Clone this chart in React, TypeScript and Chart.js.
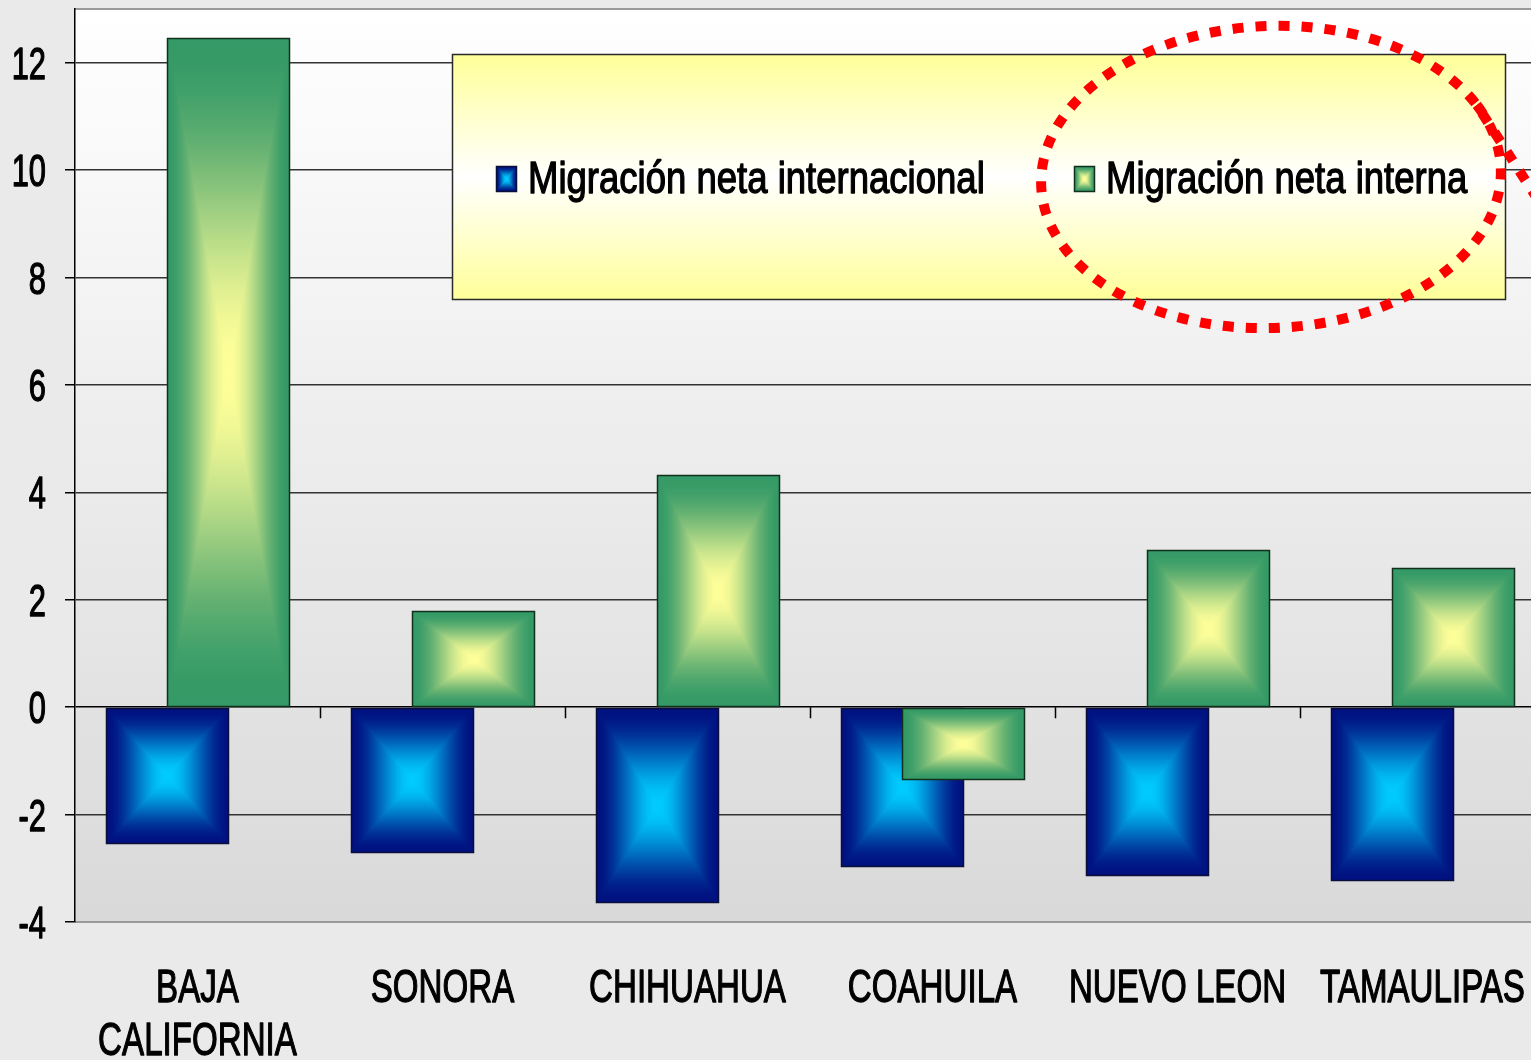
import React, { useEffect, useRef } from 'react';
import { Chart, registerables } from 'chart.js';

Chart.register(...registerables);

// ---------- data ----------
const categories: (string | string[])[] = [
  ['BAJA', 'CALIFORNIA'],
  'SONORA',
  'CHIHUAHUA',
  'COAHUILA',
  'NUEVO LEON',
  'TAMAULIPAS',
];
const migracionInternacional = [-2.53, -2.7, -3.63, -2.95, -3.13, -3.22];
const migracionInterna = [12.46, 1.79, 4.32, -1.34, 2.93, 2.59];
const yTickValues = [-4, -2, 0, 2, 4, 6, 8, 10, 12];
const seriesNames = ['Migración neta internacional', 'Migración neta interna'];

// ---------- layout / style ----------
const CANVAS_W = 1560;
const CANVAS_H = 1060;
const FONT = "'Liberation Sans', Arial, sans-serif";

const palettes = [
  { edge: [0, 16, 128], center: [0, 204, 255], border: '#0a0f3a' },
  { edge: [51, 153, 102], center: [255, 255, 153], border: '#10301c' },
];

function colorAt(edge: number[], center: number[], p: number) {
  // p: 0 at edge, 1 at center
  const d = 1 - p;
  const f = d * d * (3 - 2 * d);
  const c = center.map((cv, k) => Math.round(cv + (edge[k] - cv) * f));
  return `rgb(${c[0]},${c[1]},${c[2]})`;
}

function rampStops(g: CanvasGradient, edge: number[], center: number[]) {
  for (let i = 0; i <= 12; i++) {
    const p = i / 12;
    g.addColorStop(p, colorAt(edge, center, p));
  }
}

function drawGradientBox(
  ctx: CanvasRenderingContext2D,
  l: number,
  t: number,
  r: number,
  b: number,
  pal: { edge: number[]; center: number[]; border: string }
) {
  const cx = (l + r) / 2;
  const cy = (t + b) / 2;
  ctx.save();
  // vertical (top/bottom) component over the whole box
  if (b - t > 1) {
    const gv = ctx.createLinearGradient(0, t, 0, b);
    for (let i = 0; i <= 12; i++) {
      const p = i / 12;
      gv.addColorStop(p / 2, colorAt(pal.edge, pal.center, p));
      gv.addColorStop(1 - p / 2, colorAt(pal.edge, pal.center, p));
    }
    ctx.fillStyle = gv;
  } else {
    ctx.fillStyle = `rgb(${pal.edge.join(',')})`;
  }
  ctx.fillRect(l, t, r - l, b - t);
  // left / right triangles on top
  const tris: [number[], number[], number[]][] = [
    [[l, t], [l, b], [l, cy]],
    [[r, t], [r, b], [r, cy]],
  ];
  for (const [a, c, s] of tris) {
    if (Math.abs(s[0] - cx) < 0.5) continue;
    const g = ctx.createLinearGradient(s[0], s[1], cx, cy);
    rampStops(g, pal.edge, pal.center);
    ctx.fillStyle = g;
    ctx.beginPath();
    ctx.moveTo(a[0], a[1]);
    ctx.lineTo(c[0], c[1]);
    ctx.lineTo(cx, cy);
    ctx.closePath();
    ctx.fill();
  }
  ctx.strokeStyle = pal.border;
  ctx.lineWidth = 1.5;
  ctx.strokeRect(l, t, r - l, b - t);
  ctx.restore();
}

function drawText(
  ctx: CanvasRenderingContext2D,
  txt: string,
  x: number,
  y: number,
  size: number,
  sx: number,
  align: CanvasTextAlign
) {
  ctx.save();
  ctx.translate(x, y);
  ctx.scale(sx, 1);
  ctx.font = `${size}px ${FONT}`;
  ctx.textAlign = align;
  ctx.textBaseline = 'alphabetic';
  ctx.fillStyle = '#000';
  ctx.strokeStyle = '#000';
  ctx.lineWidth = 1.3;
  ctx.lineJoin = 'round';
  ctx.fillText(txt, 0, 0);
  ctx.strokeText(txt, 0, 0);
  ctx.restore();
}

const customPlugin = {
  id: 'customLook',
  beforeDraw(chart: any) {
    const { ctx, chartArea: a } = chart;
    ctx.save();
    ctx.fillStyle = '#eaeaea';
    ctx.fillRect(0, 0, chart.width, chart.height);
    const g = ctx.createLinearGradient(0, a.top, 0, a.bottom);
    g.addColorStop(0, '#ffffff');
    g.addColorStop(1, '#d9d9d9');
    ctx.fillStyle = g;
    ctx.fillRect(a.left, a.top, a.right - a.left, a.bottom - a.top);
    ctx.strokeStyle = '#9a9a9a';
    ctx.lineWidth = 2;
    ctx.beginPath();
    ctx.moveTo(a.left, a.top);
    ctx.lineTo(a.right, a.top);
    ctx.moveTo(a.left, a.bottom);
    ctx.lineTo(a.right, a.bottom);
    ctx.stroke();
    ctx.restore();
  },
  afterDatasetsDraw(chart: any) {
    const { ctx } = chart;
    const xs = chart.scales.x;
    const ys = chart.scales.y;
    const y0 = ys.getPixelForValue(0);
    // tick marks on the zero line at category boundaries
    ctx.save();
    ctx.strokeStyle = '#000';
    ctx.lineWidth = 1.5;
    ctx.beginPath();
    for (let i = 1; i < categories.length; i++) {
      const px = Math.round((xs.getPixelForValue(i - 1) + xs.getPixelForValue(i)) / 2) + 0.5;
      ctx.moveTo(px, y0);
      ctx.lineTo(px, y0 + 11);
    }
    ctx.stroke();
    ctx.restore();
    // bars with rectangular "from center" gradient
    [0, 1].forEach((di) => {
      const meta = chart.getDatasetMeta(di);
      meta.data.forEach((el: any) => {
        const { x, y, base, width } = el.getProps(['x', 'y', 'base', 'width'], true);
        const l = Math.round(x - width / 2) + 0.5;
        const r = Math.round(x + width / 2) + 0.5;
        const t = Math.round(Math.min(y, base)) + 0.5;
        const b = Math.round(Math.max(y, base)) + 0.5;
        drawGradientBox(ctx, l, t, r, b, palettes[di]);
      });
    });
  },
  afterDraw(chart: any) {
    const { ctx } = chart;
    const xs = chart.scales.x;
    const ys = chart.scales.y;
    // y tick labels
    ys.ticks.forEach((tk: any) => {
      const py = ys.getPixelForValue(tk.value);
      drawText(ctx, String(tk.value), 46, py + 16, 44, 0.7, 'right');
    });
    // category labels
    categories.forEach((c, i) => {
      const px = xs.getPixelForValue(i);
      const lines = Array.isArray(c) ? c : [c];
      lines.forEach((ln, k) => drawText(ctx, ln, px, 1002 + k * 53, 46, 0.72, 'center'));
    });
    // legend box
    ctx.save();
    const lx = 452.5, ly = 54.5, lw = 1053, lh = 245;
    const lg = ctx.createLinearGradient(0, ly, 0, ly + lh);
    lg.addColorStop(0, '#ffff99');
    lg.addColorStop(0.5, '#ffffff');
    lg.addColorStop(1, '#ffff99');
    ctx.fillStyle = lg;
    ctx.fillRect(lx, ly, lw, lh);
    ctx.strokeStyle = '#2a2a2a';
    ctx.lineWidth = 1.5;
    ctx.strokeRect(lx, ly, lw, lh);
    ctx.restore();
    const itemX = [496, 1074];
    seriesNames.forEach((name, i) => {
      drawGradientBox(ctx, itemX[i] + 0.5, 166.5, itemX[i] + 20.5, 191.5, palettes[i]);
      drawText(ctx, name, itemX[i] + 32, 193, 44, 0.83, 'left');
    });
    // red dotted ellipse
    ctx.save();
    ctx.strokeStyle = '#ff0000';
    ctx.lineWidth = 10;
    ctx.setLineDash([11, 12]);
    const cx = 1271, cy = 177, rx = 230, ry = 151, rot = -0.04;
    const a0 = -25 * Math.PI / 180;
    ctx.beginPath();
    ctx.ellipse(cx, cy, rx, ry, rot, a0, a0 + Math.PI * 2);
    const px = cx + rx * Math.cos(a0) * Math.cos(rot) - ry * Math.sin(a0) * Math.sin(rot);
    const py = cy + rx * Math.cos(a0) * Math.sin(rot) + ry * Math.sin(a0) * Math.cos(rot);
    let dx = -rx * Math.sin(a0), dy = ry * Math.cos(a0);
    const n = Math.hypot(dx, dy);
    dx /= n; dy /= n;
    ctx.lineTo(px + dx * 130, py + dy * 130 * 1.1);
    ctx.stroke();
    ctx.restore();
  },
};

export default function App() {
  const ref = useRef<HTMLCanvasElement | null>(null);
  useEffect(() => {
    if (!ref.current) return;
    const chart = new Chart(ref.current, {
      type: 'bar',
      data: {
        labels: categories as any,
        datasets: [
          {
            label: seriesNames[0],
            data: migracionInternacional,
            backgroundColor: 'rgba(0,0,0,0)',
            borderWidth: 0,
            categoryPercentage: 0.498,
            barPercentage: 2.016,
          },
          {
            label: seriesNames[1],
            data: migracionInterna,
            backgroundColor: 'rgba(0,0,0,0)',
            borderWidth: 0,
            categoryPercentage: 0.498,
            barPercentage: 2.016,
          },
        ],
      },
      options: {
        responsive: false,
        animation: false,
        devicePixelRatio: 1,
        layout: { padding: { top: 9, right: CANVAS_W - 1545, left: 0, bottom: 0 } },
        plugins: { legend: { display: false }, tooltip: { enabled: false } },
        scales: {
          x: {
            type: 'category',
            grid: { display: false },
            border: { display: false },
            ticks: { display: false },
            afterFit: (s: any) => {
              s.height = 138;
            },
          },
          y: {
            type: 'linear',
            min: -4,
            max: 13,
            afterBuildTicks: (s: any) => {
              s.ticks = yTickValues.map((v) => ({ value: v }));
            },
            ticks: { display: false },
            grid: {
              color: (c: any) =>
                c.tick && c.tick.value === -4 ? 'rgba(0,0,0,0)' : c.tick && c.tick.value === 0 ? '#000' : '#333',
              tickColor: '#000',
              tickLength: 10,
              lineWidth: 1.5,
            },
            border: { color: '#000', width: 1.5 },
            afterFit: (s: any) => {
              s.width = 75;
            },
          },
        },
      } as any,
      plugins: [customPlugin],
    });
    return () => chart.destroy();
  }, []);
  return (
    <div
      style={{
        position: 'fixed',
        left: 0,
        top: 0,
        width: 1531,
        height: 1060,
        overflow: 'hidden',
        background: '#eaeaea',
      }}
    >
      <canvas ref={ref} width={CANVAS_W} height={CANVAS_H} style={{ display: 'block', width: CANVAS_W, height: CANVAS_H }} />
    </div>
  );
}
